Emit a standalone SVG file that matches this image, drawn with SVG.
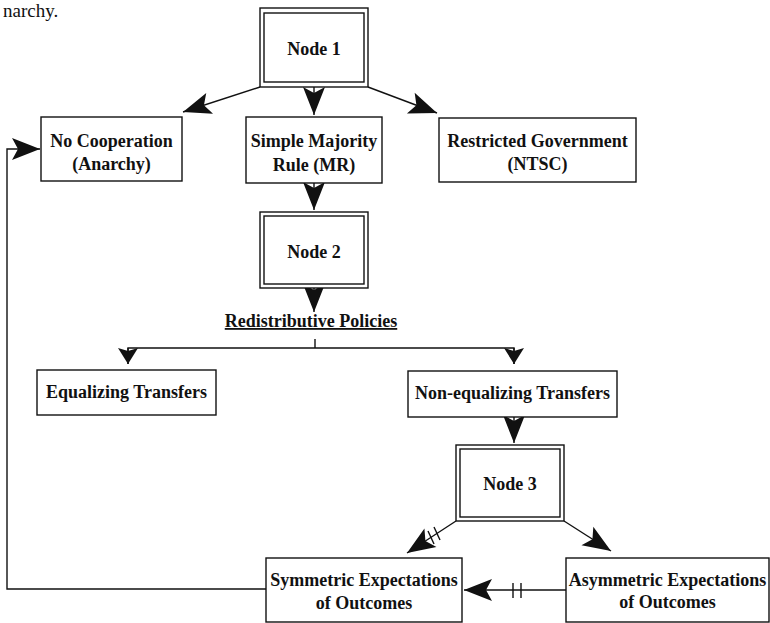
<svg xmlns="http://www.w3.org/2000/svg" width="770" height="623" viewBox="0 0 770 623">
<style>
.box{fill:#fff;stroke:#111;stroke-width:1.4}
.t{font-family:"Liberation Serif","Times New Roman",serif;font-weight:bold;font-size:18px;fill:#111;text-anchor:middle}
.c{fill:none;stroke:#111;stroke-width:1.4}
.tick{stroke:#111;stroke-width:1.4}
</style>
<defs>
<marker id="ah" viewBox="-32 -13 34 26" markerWidth="34" markerHeight="26" refX="0" refY="0" orient="auto" markerUnits="userSpaceOnUse">
<path d="M0,0 L-28,-11 L-22,0 L-28,11 Z" fill="#111"/>
</marker>
<marker id="ahs" viewBox="-20 -12 22 24" markerWidth="22" markerHeight="24" refX="0" refY="0" orient="auto" markerUnits="userSpaceOnUse">
<path d="M0,0 L-16,-10 L-13,0 L-16,10 Z" fill="#111"/>
</marker>
</defs>
<rect width="770" height="623" fill="#fff"/>
<text x="3" y="17" style="font-family:'Liberation Serif',serif;font-size:19px;fill:#111">narchy.</text>

<g id="connectors">
<line class="c" x1="260" y1="87" x2="183" y2="112" marker-end="url(#ah)"/>
<line class="c" x1="314" y1="87" x2="314" y2="115" marker-end="url(#ah)"/>
<line class="c" x1="368" y1="87" x2="437" y2="113" marker-end="url(#ah)"/>
<line class="c" x1="314" y1="183" x2="314" y2="210" marker-end="url(#ah)"/>
<line class="c" x1="314" y1="288" x2="314" y2="312" marker-end="url(#ah)"/>
<line class="c" x1="315" y1="339" x2="315" y2="348"/>
<polyline class="c" points="128,364 128,348 514,348 514,364"/>
<line class="c" x1="128" y1="348" x2="128" y2="364" marker-end="url(#ahs)"/>
<line class="c" x1="514" y1="348" x2="514" y2="364" marker-end="url(#ahs)"/>
<line class="c" x1="514" y1="417" x2="514" y2="443" marker-end="url(#ah)"/>
<line class="c" x1="456" y1="521" x2="407" y2="553" marker-end="url(#ah)"/>
<line class="tick" x1="434" y1="527" x2="440" y2="540"/>
<line class="tick" x1="428" y1="531" x2="434" y2="544"/>
<line class="c" x1="564" y1="521" x2="611" y2="551" marker-end="url(#ah)"/>
<line class="c" x1="566" y1="590" x2="464" y2="590" marker-end="url(#ah)"/>
<line class="tick" x1="513" y1="583" x2="513" y2="598"/>
<line class="tick" x1="521" y1="583" x2="521" y2="598"/>
<polyline class="c" points="266,589 7,589 7,149 40,149" marker-end="url(#ah)"/>
</g>

<g id="node1">
<rect class="box" x="260" y="8" width="108" height="79"/>
<rect class="box" x="264" y="13" width="100" height="69"/>
<text class="t" x="314" y="55">Node 1</text>
</g>
<g id="no-cooperation">
<rect class="box" x="41" y="117" width="141" height="64"/>
<text class="t" x="111.5" y="147">No Cooperation</text>
<text class="t" x="111.5" y="170">(Anarchy)</text>
</g>
<g id="simple-majority">
<rect class="box" x="246" y="117" width="136" height="66"/>
<text class="t" x="314" y="147">Simple Majority</text>
<text class="t" x="314" y="171">Rule (MR)</text>
</g>
<g id="restricted-government">
<rect class="box" x="439" y="118" width="197" height="64"/>
<text class="t" x="537.5" y="147">Restricted Government</text>
<text class="t" x="537.5" y="170">(NTSC)</text>
</g>
<g id="node2">
<rect class="box" x="260" y="212" width="108" height="76"/>
<rect class="box" x="264" y="216" width="100" height="68"/>
<text class="t" x="314" y="258">Node 2</text>
</g>
<g id="redistributive-policies">
<text class="t" x="311" y="327" text-decoration="underline">Redistributive Policies</text>
</g>
<g id="equalizing">
<rect class="box" x="37" y="370" width="179" height="45"/>
<text class="t" x="126.5" y="398">Equalizing Transfers</text>
</g>
<g id="non-equalizing">
<rect class="box" x="408" y="371" width="209" height="46"/>
<text class="t" x="512.5" y="399">Non-equalizing Transfers</text>
</g>
<g id="node3">
<rect class="box" x="456" y="445" width="108" height="76"/>
<rect class="box" x="460" y="449" width="100" height="68"/>
<text class="t" x="510" y="490">Node 3</text>
</g>
<g id="symmetric">
<rect class="box" x="266" y="558" width="196" height="64"/>
<text class="t" x="364" y="586">Symmetric Expectations</text>
<text class="t" x="364" y="609">of Outcomes</text>
</g>
<g id="asymmetric">
<rect class="box" x="566" y="558" width="203" height="64"/>
<text class="t" x="667.5" y="586">Asymmetric Expectations</text>
<text class="t" x="667.5" y="608">of Outcomes</text>
</g>
</svg>
